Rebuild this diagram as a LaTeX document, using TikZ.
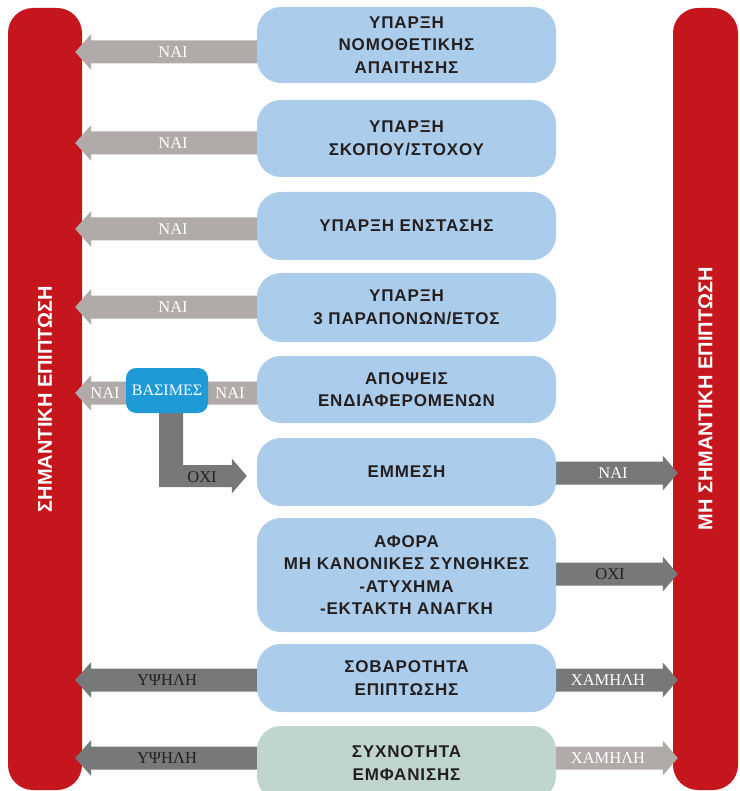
\documentclass[tikz,border=0pt]{standalone}
\usepackage{fontspec}
\setmainfont{Liberation Serif}
\newfontfamily\boxfont[LetterSpace=5]{Liberation Sans}
\newfontfamily\barfont{Liberation Sans}
\usetikzlibrary{calc}
\definecolor{redbar}{HTML}{C4161C}
\definecolor{boxblue}{HTML}{ABCDEB}
\definecolor{boxgreen}{HTML}{C0D5CF}
\definecolor{lgray}{HTML}{B0AAA9}
\definecolor{dgray}{HTML}{77787A}
\definecolor{vblue}{HTML}{1E9AD6}
\definecolor{txt}{HTML}{231F20}
% block arrow to the left bar: #1 start coordinate, #2 point on bar edge, #3 style
\newcommand\arrowtoL[3]{\fill[#3] ($(#1)+(0,-11.5)$) -- ($(#2)+(9,-11.5)$) -- ($(#2)+(9,-18)$) -- ($(#2)+(-7,0)$) -- ($(#2)+(9,18)$) -- ($(#2)+(9,11.5)$) -- ($(#1)+(0,11.5)$) -- cycle;}
% block arrow to the right bar
\newcommand\arrowtoR[3]{\fill[#3] ($(#1)+(0,-11.5)$) -- ($(#2)+(-10,-11.5)$) -- ($(#2)+(-10,-17.5)$) -- ($(#2)+(5,0)$) -- ($(#2)+(-10,17.5)$) -- ($(#2)+(-10,11.5)$) -- ($(#1)+(0,11.5)$) -- cycle;}
\begin{document}
\begin{tikzpicture}[x=1pt,y=-1pt,
  box/.style={rounded corners=24pt, minimum width=299pt, inner sep=0pt, fill=boxblue,
    font=\boxfont\bfseries\fontsize{17}{22.5}\selectfont, text=txt, align=center},
  redbar/.style={fill=redbar, rounded corners=25pt, inner sep=0pt, minimum height=782pt},
  barlbl/.style={text=white, font=\barfont\bfseries\fontsize{20}{24}\selectfont, rotate=90, inner sep=0pt},
  albl/.style={font=\fontsize{16.5}{18}\selectfont, inner sep=0pt},
  wlbl/.style={albl, text=white},
  blbl/.style={albl, text=txt},
  light/.style={fill=lgray},
  dark/.style={fill=dgray},
  validbox/.style={fill=vblue, rounded corners=10pt, minimum width=82pt, minimum height=45pt,
    inner sep=0pt, text=white, font=\fontsize{16}{18}\selectfont}]
\useasboundingbox (0,0) rectangle (739,791);

% side bars
\node[redbar, minimum width=74pt] (L) at (45,399) {};
\node[redbar, minimum width=65pt] (R) at (705.5,399) {};
\node[barlbl] (Ltxt) at (L.center) {ΣΗΜΑΝΤΙΚΗ ΕΠΙΠΤΩΣΗ};
\node[barlbl] (Rtxt) at (R.center) {ΜΗ ΣΗΜΑΝΤΙΚΗ ΕΠΙΠΤΩΣΗ};

% arrow anchor points (under the boxes)
\coordinate (c1) at (406.5,52);
\coordinate (c2) at (406.5,143);
\coordinate (c3) at (406.5,229);
\coordinate (c4) at (406.5,307);
\coordinate (c5) at (406.5,393);
\coordinate (c6) at (406.5,473);
\coordinate (c7) at (406.5,574);
\coordinate (c8) at (406.5,680);
\coordinate (c9) at (406.5,758);

% arrows to the left bar
\arrowtoL{c1}{L.east |- c1}{light}
\arrowtoL{c2}{L.east |- c2}{light}
\arrowtoL{c3}{L.east |- c3}{light}
\arrowtoL{c4}{L.east |- c4}{light}
\arrowtoL{c5}{L.east |- c5}{light}
\arrowtoL{c8}{L.east |- c8}{dark}
\arrowtoL{c9}{L.east |- c9}{dark}
% arrows to the right bar
\arrowtoR{c6}{R.west |- c6}{dark}
\arrowtoR{c7}{R.west |- c7}{dark}
\arrowtoR{c8}{R.west |- c8}{dark}
\arrowtoR{c9}{R.west |- c9}{light}

% boxes
\node[box, minimum height=76pt] (b1) at (406.5,45) {ΥΠΑΡΞΗ\\ΝΟΜΟΘΕΤΙΚΗΣ\\ΑΠΑΙΤΗΣΗΣ};
\node[box, minimum height=77pt] (b2) at (406.5,138.5) {ΥΠΑΡΞΗ\\ΣΚΟΠΟΥ/ΣΤΟΧΟΥ};
\node[box, minimum height=68pt] (b3) at (406.5,226) {ΥΠΑΡΞΗ ΕΝΣΤΑΣΗΣ};
\node[box, minimum height=69pt] (b4) at (406.5,307.5) {ΥΠΑΡΞΗ\\3 ΠΑΡΑΠΟΝΩΝ/ΕΤΟΣ};
\node[box, minimum height=67pt] (b5) at (406.5,389.5) {ΑΠΟΨΕΙΣ\\ΕΝΔΙΑΦΕΡΟΜΕΝΩΝ};
\node[box, minimum height=68pt] (b6) at (406.5,472) {ΕΜΜΕΣΗ};
\node[box, minimum height=114pt] (b7) at (406.5,575) {ΑΦΟΡΑ\\ΜΗ ΚΑΝΟΝΙΚΕΣ ΣΥΝΘΗΚΕΣ\\-ΑΤΥΧΗΜΑ\\-ΕΚΤΑΚΤΗ ΑΝΑΓΚΗ};
\node[box, minimum height=68pt] (b8) at (406.5,678) {ΣΟΒΑΡΟΤΗΤΑ\\ΕΠΙΠΤΩΣΗΣ};
\node[box, fill=boxgreen, minimum height=74pt] (b9) at (406.5,763) {ΣΥΧΝΟΤΗΤΑ\\ΕΜΦΑΝΙΣΗΣ};

% L-shaped ΟΧΙ arrow from the valid node to ΕΜΜΕΣΗ
\coordinate (vc) at (167,390.5);
\coordinate (o1) at ($(vc)+(4,0)$);
\coordinate (o2) at (o1 |- 0,476);
\coordinate (o3) at (b6.west |- o2);
\fill[dgray] ($(o1)+(-12,0)$) -- ($(o2)+(-12,11)$) -- ($(o3)+(-25,11)$) -- ($(o3)+(-25,17.5)$)
  -- ($(o3)+(-10,0)$) -- ($(o3)+(-25,-17.5)$) -- ($(o3)+(-25,-11)$) -- ($(o2)+(12,-11)$)
  -- ($(o1)+(12,0)$) -- cycle;
% valid node
\node[validbox] (v) at (vc) {ΒΑΣΙΜΕΣ};

% arrow labels
\node[wlbl] (n1) at (173,52) {ΝΑΙ};
\node[wlbl] (n2) at (173,143) {ΝΑΙ};
\node[wlbl] (n3) at (173,229) {ΝΑΙ};
\node[wlbl] (n4) at (173,307) {ΝΑΙ};
\node[wlbl] (n5a) at (105,393) {ΝΑΙ};
\node[wlbl] (n5b) at (230,393) {ΝΑΙ};
\node[blbl] (o) at (202,477) {ΟΧΙ};
\node[wlbl] (n6) at (613,473) {ΝΑΙ};
\node[blbl] (o7) at (610,574) {ΟΧΙ};
\node[blbl] (h8) at (167,680) {ΥΨΗΛΗ};
\node[blbl] (h9) at (167,758) {ΥΨΗΛΗ};
\node[wlbl] (l8) at (608,680) {ΧΑΜΗΛΗ};
\node[wlbl] (l9) at (608,758) {ΧΑΜΗΛΗ};
\end{tikzpicture}
\end{document}
